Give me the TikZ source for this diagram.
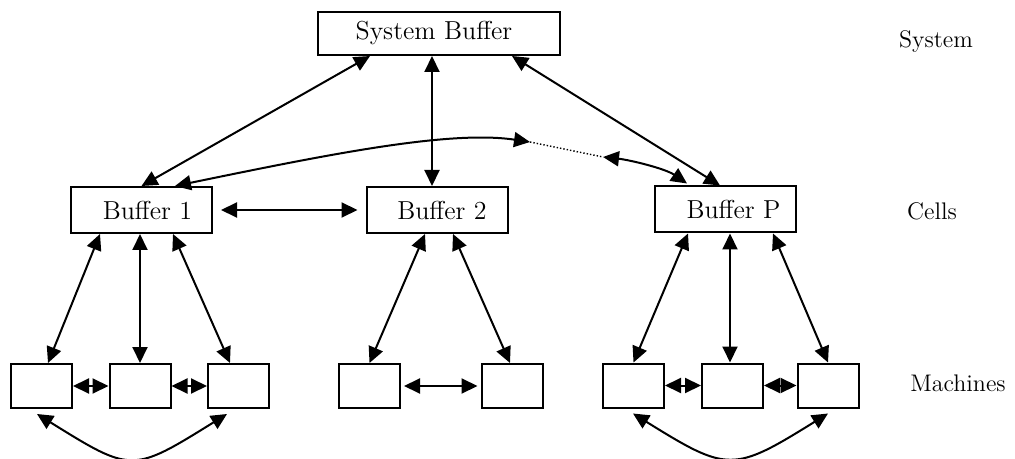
\documentclass[tikz,border=0pt]{standalone}
\usetikzlibrary{arrows.meta}
\begin{document}
\begin{tikzpicture}[x=0.5pt,y=-0.5pt,box/.style={draw,line width=1pt,minimum width=70.5pt,minimum height=23pt,inner sep=0pt,font=\fontsize{13}{15}\selectfont},mach/.style={draw,line width=1pt,minimum width=30.5pt,minimum height=22pt,inner sep=0pt},level/.style={font=\large},link/.style={<->,>={Triangle[length=8pt,width=7.5pt]},line width=1pt}]
\useasboundingbox (0,0) rectangle (1015,459);

\node[box,minimum width=121pt,minimum height=21.5pt] (sys) at (439,33.5) {System Buffer\hspace*{5pt}};

\node[box] (b1) at (141.5,210) {\hspace*{6pt}Buffer 1};
\node[box] (b2) at (437,210) {\hspace*{5pt}Buffer 2};
\node[box] (bp) at (725.5,209.5) {\hspace*{8pt}Buffer P};

\node[mach] (m1) at (41.5,386) {};
\node[mach] (m2) at (140,386) {};
\node[mach] (m3) at (238.5,386) {};
\node[mach] (m4) at (369.5,386) {};
\node[mach] (m5) at (512,386) {};
\node[mach] (m6) at (633.5,385.5) {};
\node[mach] (m7) at (732.5,385.5) {};
\node[mach] (m8) at (828,385.5) {};

\node[level] (lsys) at (936,42) {System};
\node[level] (lcell) at (932,211) {Cells};
\node[level] (lmach) at (958,383) {Machines};

\draw[link] ([xshift=-34.5pt]sys.south) -- (b1.north);
\draw[link] ([xshift=-3.5pt]sys.south) -- ([xshift=-2.5pt]b2.north);
\draw[link] ([xshift=36.5pt]sys.south) -- ([xshift=-2.75pt]bp.north);
\draw[link,shorten <=4pt,shorten >=4pt] (b1.east) -- (b2.west);

\coordinate (d1) at (530,142);
\coordinate (d2) at (603,157);
\draw[link] ([xshift=16.75pt]b1.north) .. controls +(155,-32) and +(-80,-12) .. (d1);
\draw[densely dotted,line width=0.7pt] (d1) -- (d2);
\draw[link] (d2) .. controls +(27,3) and +(-22,-15) .. ([xshift=-19.25pt,yshift=1pt]bp.north);

\draw[link] ([xshift=-20.75pt]b1.south) -- ([xshift=3.25pt]m1.north);
\draw[link] ([xshift=-0.75pt]b1.south) -- (m2.north);
\draw[link] ([xshift=15.75pt]b1.south) -- ([xshift=-4.25pt]m3.north);
\draw[link] ([xshift=-6pt]b2.south) -- (m4.north);
\draw[link] ([xshift=8pt]b2.south) -- ([xshift=-1pt]m5.north);
\draw[link] ([xshift=-18.75pt]bp.south) -- (m6.north);
\draw[link] ([xshift=2.25pt]bp.south) -- ([xshift=-1.25pt]m7.north);
\draw[link] ([xshift=23.75pt]bp.south) -- (m8.north);

\draw[link] (m1) -- (m2);
\draw[link] (m2) -- (m3);
\draw[link,shorten <=1.5pt,shorten >=1.5pt] (m4) -- (m5);
\draw[link] (m6) -- (m7);
\draw[link] (m7) -- (m8);

\draw[link] ([xshift=-2.25pt,yshift=-2.5pt]m1.south) .. controls +(95,59) and +(-95,59) .. ([xshift=-5.75pt,yshift=-2.5pt]m3.south);
\draw[link] ([xshift=-0.25pt,yshift=-2.5pt]m6.south) .. controls +(95,59) and +(-95,59) .. ([yshift=-2.5pt]m8.south);
\end{tikzpicture}
\end{document}
